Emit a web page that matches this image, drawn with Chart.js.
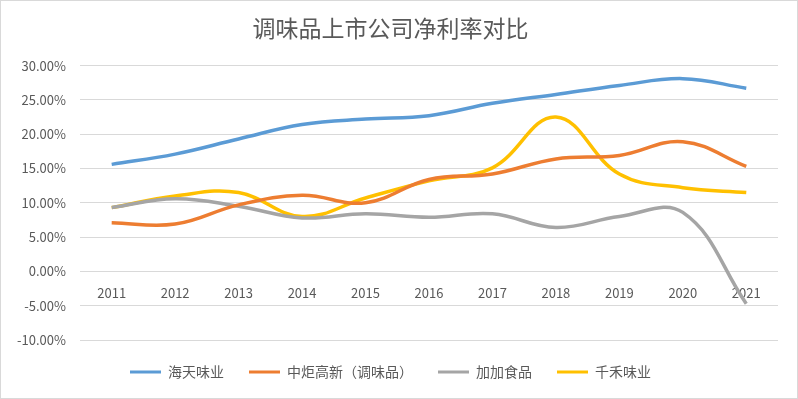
<!DOCTYPE html>
<html>
<head>
<meta charset="utf-8">
<script src="https://cdn.jsdelivr.net/npm/chart.js@4"></script>
<style>
  body { margin: 0; background: #fff; }
  #wrap { width: 798px; height: 399px; box-sizing: border-box; border: 1px solid #d9d9d9; }
</style>
</head>
<body>
<div id="wrap"><canvas id="chart"></canvas></div>
<script>
// 数据（净利率，%）
const years = ['2011', '2012', '2013', '2014', '2015', '2016', '2017', '2018', '2019', '2020', '2021'];
const haitian = [15.6, 17.1, 19.3, 21.4, 22.2, 22.7, 24.5, 25.8, 27.1, 28.1, 26.7];
const zhongju = [7.1, 6.9, 9.7, 11.1, 10.0, 13.4, 14.2, 16.4, 16.9, 18.9, 15.3];
const jiajia = [9.3, 10.6, 9.5, 7.8, 8.4, 7.9, 8.4, 6.4, 8.0, 8.6, -4.7];
const qianhe = [9.3, 11.0, 11.5, 8.0, 10.7, 13.2, 15.1, 22.5, 14.2, 12.2, 11.5];
const seriesNames = ['海天味业', '中炬高新（调味品）', '加加食品', '千禾味业'];
const seriesColors = ['#5B9BD5', '#ED7D31', '#A5A5A5', '#FFC000'];

const FONT = '"Noto Sans CJK SC", "Noto Sans", sans-serif';
const TEXT = '#595959';

function makeSet(i, data) {
    return {
        label: seriesNames[i],
        data: data,
        borderColor: seriesColors[i],
        backgroundColor: seriesColors[i],
        borderWidth: 3.5,
        pointRadius: 0,
        tension: 0.4,
        fill: false
    };
}

new Chart(document.getElementById('chart').getContext('2d'), {
    type: 'line',
    data: {
        labels: years,
        datasets: [makeSet(0, haitian), makeSet(1, zhongju), makeSet(2, jiajia), makeSet(3, qianhe)]
    },
    options: {
        responsive: true,
        maintainAspectRatio: false,
        animation: false,
        layout: { padding: { left: 2, right: 19, top: 6, bottom: 9 } },
        plugins: {
            title: {
                display: true,
                text: '调味品上市公司净利率对比',
                color: TEXT,
                font: { family: FONT, size: 23, weight: 'normal' },
                padding: { top: 7, bottom: 24 }
            },
            legend: {
                position: 'bottom',
                labels: {
                    color: TEXT,
                    font: { family: FONT, size: 14 },
                    boxWidth: 31,
                    boxHeight: 3,
                    padding: 25,
                    generateLabels: function(chart) {
                        const items = Chart.defaults.plugins.legend.labels.generateLabels(chart);
                        items.forEach(it => { it.lineWidth = 0; });
                        return items;
                    }
                }
            },
            tooltip: { enabled: false }
        },
        scales: {
            x: {
                position: { y: 0 },
                offset: true,
                grid: { display: false },
                border: { display: false },
                ticks: { color: TEXT, font: { family: FONT, size: 13 }, padding: 6 }
            },
            y: {
                min: -10,
                max: 30,
                grid: { color: '#d9d9d9', drawTicks: false },
                border: { display: false },
                ticks: {
                    stepSize: 5,
                    color: TEXT,
                    font: { family: FONT, size: 13 },
                    padding: 14,
                    callback: v => v.toFixed(2) + '%'
                }
            }
        }
    }
});
</script>
</body>
</html>
